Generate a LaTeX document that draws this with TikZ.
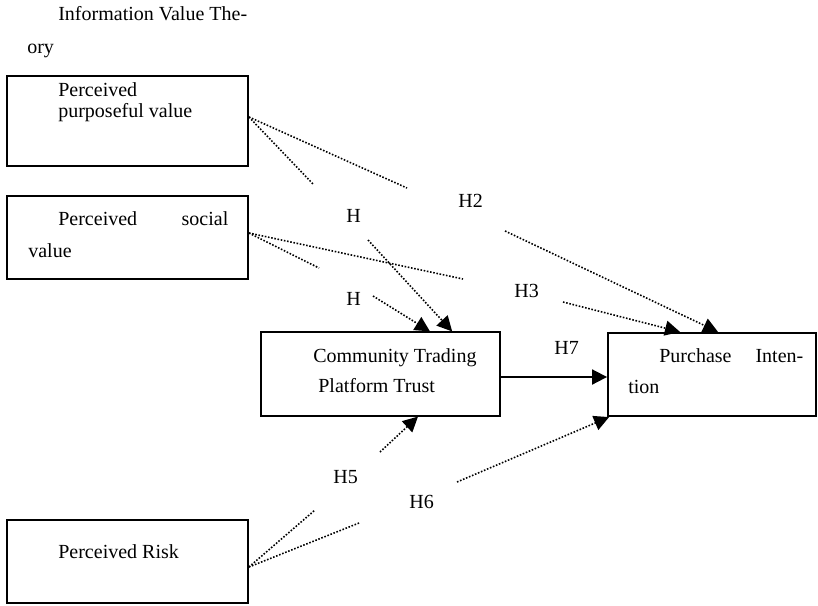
\documentclass[tikz,border=0pt]{standalone}
\usepackage{fontspec}
\setmainfont{Liberation Serif}
\usepackage{tikz}
\usetikzlibrary{arrows.meta}

\begin{document}
\begin{tikzpicture}[x=0.6pt, y=-0.6pt, >={Triangle[length=9pt, width=9pt]},
    every node/.style={font=\fontsize{12}{14}\selectfont, inner sep=0pt},
    box/.style={draw, line width=1.1pt, minimum width=#1, minimum height=50pt},
    txt/.style={anchor=base west},
    hyp/.style={densely dotted, line width=0.95pt}]
    \useasboundingbox (0,0) rectangle (818,605);
    % Theory heading
    \node[txt] (theory1) at (58,20) {Information Value The-};
    \node[txt] (theory2) at (27,53) {ory};
    % Boxes
    \node[box=144.6pt, minimum height=54pt] (pv) at (127.5,121) {};
    \node[box=144.6pt] (ps) at (127.5,237.5) {};
    \node[box=143.4pt] (ctpt) at (380.5,374) {};
    \node[box=124.8pt] (pi) at (712,374.5) {};
    \node[box=144.6pt] (pr) at (127.5,561.5) {};
    % Box texts
    \node[txt] (pv1) at (58,96) {Perceived};
    \node[txt] (pv2) at (58,117) {purposeful value};
    \node[txt] (ps1) at (58,225) {\makebox[102pt][s]{Perceived social}};
    \node[txt] (ps2) at (28,257) {value};
    \node[txt] (ct1) at (313,362) {Community Trading};
    \node[txt] (ct2) at (318,392) {Platform Trust};
    \node[txt] (pi1) at (659,362) {\makebox[86.4pt][s]{Purchase Inten-}};
    \node[txt] (pi2) at (628,393) {tion};
    \node[txt] (pr1) at (58,558) {Perceived Risk};
    % Hypothesis labels
    \node[txt] (l1) at (346,222) {H};
    \node[txt] (l2) at (458,207) {H2};
    \node[txt] (l4) at (346,305) {H};
    \node[txt] (l3) at (514,297) {H3};
    \node[txt] (l7) at (554,354) {H7};
    \node[txt] (l5) at (333,483) {H5};
    \node[txt] (l6) at (409,508) {H6};
    % Break points around the labels
    \coordinate (h1a) at (313,184);
    \coordinate (h1b) at (368,240);
    \coordinate (h2a) at (407,188);
    \coordinate (h2b) at (505,231);
    \coordinate (h4a) at (319,268);
    \coordinate (h4b) at (373,296);
    \coordinate (h3a) at (463,279);
    \coordinate (h3b) at (563,302);
    \coordinate (h5a) at (315,510);
    \coordinate (h5b) at (380,452);
    \coordinate (h6a) at (359,523);
    \coordinate (h6b) at (457,482);
    % Purposeful value -> trust (H), -> intention (H2)
    \draw[hyp] ([yshift=2.4pt]pv.east) -- (h1a);
    \draw[hyp, ->] (h1b) -- ([xshift=43pt]ctpt.north);
    \draw[hyp] ([yshift=2.4pt]pv.east) -- (h2a);
    \draw[hyp, ->] (h2b) -- ([xshift=3.6pt]pi.north);
    % Social value -> trust (H), -> intention (H3)
    \draw[hyp] ([yshift=2.7pt]ps.east) -- (h4a);
    \draw[hyp, ->] (h4b) -- ([xshift=29.7pt]ctpt.north);
    \draw[hyp] ([yshift=2.7pt]ps.east) -- (h3a);
    \draw[hyp, ->] (h3b) -- ([xshift=-19.2pt]pi.north);
    % Trust -> intention (H7)
    \draw[->, line width=1.1pt] ([yshift=-1.8pt]ctpt.east) -- ([yshift=-1.8pt]ctpt.east -| pi.west);
    % Risk -> trust (H5), -> intention (H6)
    \draw[hyp] ([yshift=-3.3pt]pr.east) -- (h5a);
    \draw[hyp, ->] (h5b) -- ([xshift=22.5pt]ctpt.south);
    \draw[hyp] ([yshift=-3.3pt]pr.east) -- (h6a);
    \draw[hyp, ->] (h6b) -- ([xshift=1.2pt]pi.south west);
\end{tikzpicture}
\end{document}
